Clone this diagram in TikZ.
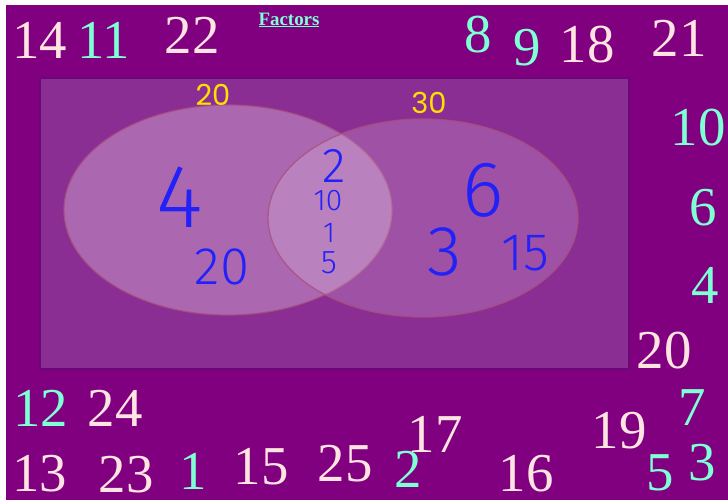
\documentclass[tikz,border=0pt]{standalone}
\usepackage{fontspec}
\setmainfont{Liberation Serif}
\newfontfamily\pop{Poppins}
\newfontfamily\handfont{Fira Sans Light}
\definecolor{bgpurple}{HTML}{800080}
\definecolor{boxfill}{HTML}{8B2E93}
\definecolor{boxline}{HTML}{6A0878}
\definecolor{rose}{HTML}{FFE4E1}
\definecolor{aqua}{HTML}{7FFFD4}
\definecolor{setyellow}{HTML}{FFE000}
\definecolor{hand}{HTML}{2222F8}
\definecolor{ringline}{HTML}{A8507E}
\begin{document}
\begin{tikzpicture}[x=1bp,y=-1bp,
  num/.style={inner sep=0pt, font=\fontsize{55}{55}\selectfont},
  pnum/.style={num, text=rose},
  anum/.style={num, text=aqua},
  setlabel/.style={inner sep=0pt, text=setyellow, font=\pop\fontsize{29}{29}\selectfont},
  handw/.style={inner sep=0pt, text=hand, font=\handfont\fontsize{#1}{#1}\selectfont},
  ring/.style={draw=ringline, line width=1.3bp, draw opacity=0.8, fill=white, fill opacity=#1}]
\useasboundingbox (0,0) rectangle (728,500);
\fill[white] (0,0) rectangle (728,500);
\fill[bgpurple] (6,5) rectangle (728,500);
% universe box
\draw[fill=boxfill, draw=boxline, line width=2bp] (40,78) rectangle (629,369);
% sets
\draw[ring=0.28] (228,210) ellipse [x radius=164, y radius=105];
\draw[ring=0.17] (423,218) ellipse [x radius=155, y radius=99];
\node[setlabel] (lA) at (213,95) {20};
\node[setlabel] (lB) at (429,103) {30};
% title
\node[inner sep=0pt, text=aqua, font=\bfseries\fontsize{19}{19}\selectfont] (title) at (289,20) {\underline{Factors}};
% handwritten entries
\node[handw=90] (h4) at (180,197) {4};
\node[handw=53] (h20) at (222,267) {20};
\node[handw=49] (h2) at (334,166) {2};
\node[handw=30] (h10) at (328,201) {10};
\node[handw=29] (h1) at (329,233) {1};
\node[handw=33] (h5) at (329,263) {5};
\node[handw=79] (h6) at (483,190) {6};
\node[handw=71] (h3) at (445,252) {3};
\node[handw=53] (h15) at (525,253) {15};
% scattered numbers
\node[pnum] (n14) at (40,40) {14};
\node[anum] (n11) at (104,40) {11};
\node[pnum] (n22) at (192,35) {22};
\node[anum] (n8) at (478,35) {8};
\node[anum] (n9) at (527,48) {9};
\node[pnum] (n18) at (587,45) {18};
\node[pnum] (n21) at (679,38) {21};
\node[anum] (n10) at (698,128) {10};
\node[anum] (n6) at (703,208) {6};
\node[anum] (n4) at (705,285) {4};
\node[pnum] (n20) at (664,351) {20};
\node[anum] (n12) at (41,408) {12};
\node[pnum] (n24) at (115,408) {24};
\node[pnum] (n13) at (40,474) {13};
\node[pnum] (n23) at (126,475) {23};
\node[anum] (n1) at (193,471) {1};
\node[pnum] (n15) at (261,467) {15};
\node[pnum] (n25) at (345,464) {25};
\node[pnum] (n17) at (435,434) {17};
\node[anum] (n2) at (408,469) {2};
\node[pnum] (n16) at (526,474) {16};
\node[pnum] (n19) at (619,431) {19};
\node[anum] (n7) at (692,408) {7};
\node[anum] (n5) at (660,473) {5};
\node[anum] (n3) at (702,463) {3};
\end{tikzpicture}
\end{document}
